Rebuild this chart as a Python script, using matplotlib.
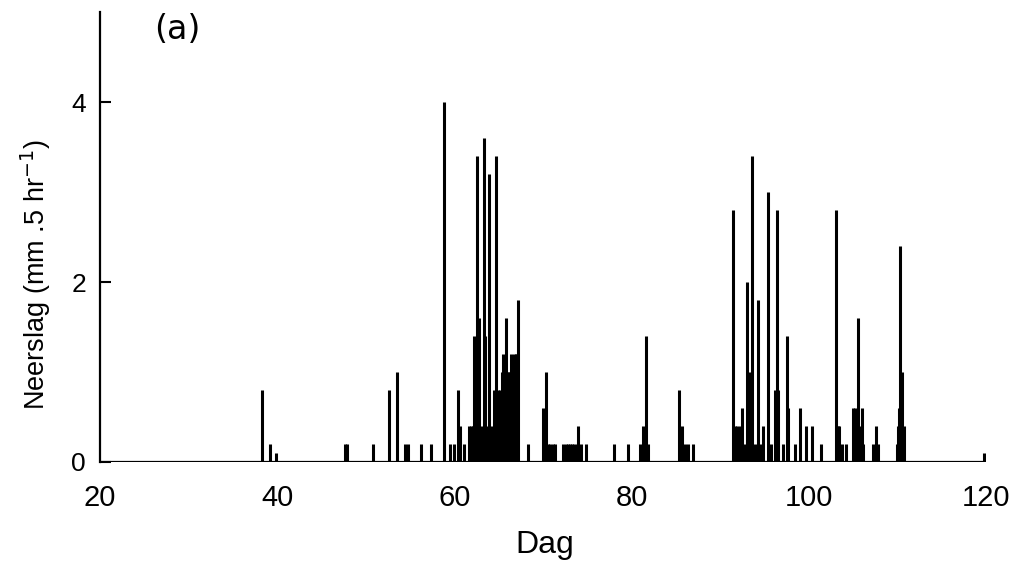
import matplotlib
matplotlib.use("Agg")
import matplotlib.pyplot as plt

# Day of year (x) and precipitation per half hour (mm)
days = [38.3, 39.2, 39.85, 47.7, 47.85, 50.85, 52.6, 53.5, 54.4, 54.8, 56.25, 57.4,
        58.85, 59.5, 60.0, 60.4, 60.6, 61.1, 61.65, 61.85, 62.05, 62.2, 62.5, 62.65,
        62.8, 63.0, 63.3, 63.5, 63.7, 63.95, 64.15, 64.5, 64.75, 64.9, 65.1, 65.35,
        65.5, 65.65, 65.8, 66.0, 66.1, 66.35, 66.55, 66.75, 66.9, 67.05, 67.2, 68.35,
        70.05, 70.3, 70.55, 70.8, 71.15, 71.35, 72.3, 72.55, 72.8, 73.05, 73.3, 73.55,
        73.8, 74.0, 74.3, 74.85, 78.05, 79.6, 81.0, 81.25, 81.6, 81.85, 85.4, 85.7,
        86.05, 86.4, 86.95, 91.5, 91.7, 91.95, 92.2, 92.5, 92.75, 93.0, 93.25, 93.55,
        93.95, 94.3, 94.6, 94.85, 95.45, 95.7, 96.2, 96.4, 96.55, 97.05, 97.5, 97.7,
        98.45, 99.0, 99.65, 100.4, 101.4, 103.05, 103.25, 103.45, 103.7, 104.25, 105.0,
        105.2, 105.4, 105.6, 105.8, 105.95, 106.15, 107.3, 107.55, 107.85, 110.0, 110.1,
        110.2, 110.3, 110.55, 110.75, 119.75]
rain = [0.8, 0.2, 0.1, 0.2, 0.2, 0.2, 0.8, 1.0, 0.2, 0.2, 0.2, 0.2,
        4.0, 0.2, 0.2, 0.8, 0.4, 0.2, 0.4, 0.4, 0.4, 1.4, 3.4, 0.4,
        1.6, 0.4, 3.6, 1.4, 0.4, 3.2, 0.4, 0.8, 3.4, 0.8, 0.8, 1.0,
        1.2, 1.0, 1.6, 1.0, 1.0, 1.2, 0.4, 1.2, 1.2, 1.2, 1.8, 0.2,
        0.6, 1.0, 0.2, 0.2, 0.2, 0.2, 0.2, 0.2, 0.2, 0.2, 0.2, 0.2,
        0.2, 0.4, 0.2, 0.2, 0.2, 0.2, 0.2, 0.4, 1.4, 0.2, 0.8, 0.4,
        0.2, 0.2, 0.2, 2.8, 0.4, 0.4, 0.4, 0.6, 0.2, 2.0, 1.0, 3.4,
        0.2, 1.8, 0.2, 0.4, 3.0, 0.2, 0.8, 2.8, 0.8, 0.2, 1.4, 0.6,
        0.2, 0.6, 0.4, 0.4, 0.2, 2.8, 0.4, 0.4, 0.2, 0.2, 0.6,
        0.6, 0.4, 1.6, 0.4, 0.6, 0.2, 0.2, 0.4, 0.2, 0.2, 0.4,
        0.6, 2.4, 1.0, 0.4, 0.1]

xticks = [20, 40, 60, 80, 100, 120]
yticks = [0, 2, 4]

plt.rcParams['font.family'] = ['Liberation Sans', 'DejaVu Sans']

fig = plt.figure(figsize=(10.14, 5.67), dpi=100)
ax = fig.add_axes([0.0986, 0.1852, 0.8738, 0.7936])

ax.vlines(days, 0, rain, colors='black', linewidth=2.2)
ax.plot([20, 120], [0, 0], color='black', linewidth=1.6, solid_capstyle='butt')

ax.set_xlim(20, 120)
ax.set_ylim(0, 5)
ax.set_xticks(xticks)
ax.set_yticks(yticks)
ax.set_xticklabels([str(v) for v in xticks], fontsize=21)
ax.set_yticklabels([str(v) for v in yticks], fontsize=19)

for s in ['top', 'right', 'bottom']:
    ax.spines[s].set_visible(False)
ax.spines['left'].set_linewidth(1.6)

ax.tick_params(axis='x', length=0, pad=16)
ax.tick_params(axis='y', direction='in', length=8, width=1.5, pad=10)

ax.set_xlabel('Dag', fontsize=23, va='center', ha='center')
ax.xaxis.set_label_coords(0.502, -0.184)
ax.set_ylabel('Neerslag (mm .5 hr$^{-1}$)', fontsize=19.5, va='center', ha='center')
ax.yaxis.set_label_coords(-0.072, 0.416)

ax.text(0.087, 0.962, '(a)', transform=ax.transAxes, fontsize=24,
        ha='center', va='center', family=['DejaVu Sans'])

fig.savefig('out.png', dpi=100)
